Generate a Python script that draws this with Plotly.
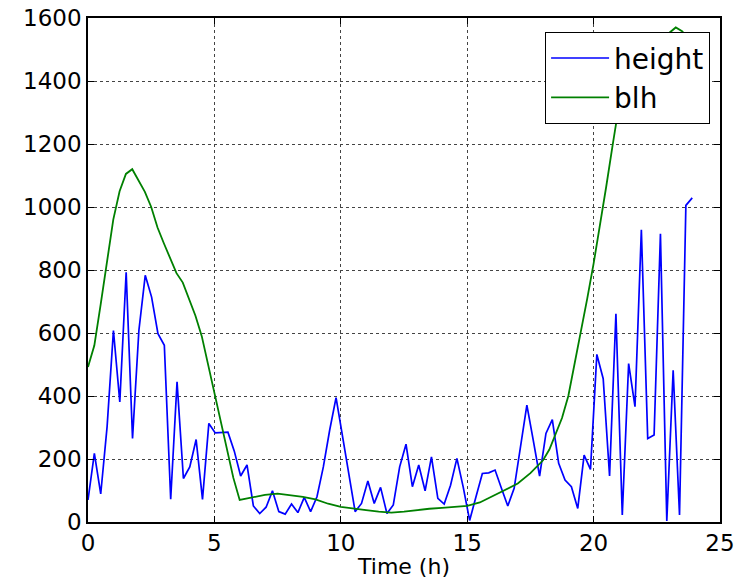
import plotly.graph_objects as go

# --- data ---
height_step_h = 0.2516  # sampling interval of the "height" series (hours)
height_values = [
    70, 218, 89, 302, 608, 381, 793, 265, 608, 783,
    714, 598, 561, 72, 445, 138, 175, 262, 72, 313,
    283, 283, 285, 225, 146, 181, 51, 27, 47, 99,
    33, 25, 57, 30, 78, 33, 80, 175, 292, 395,
    275, 155, 33, 59, 130, 59, 110, 27, 54, 175,
    247, 112, 181, 99, 207, 75, 57, 117, 202, 110,
    5, 80, 154, 156, 165, 107, 51, 107, 244, 371,
    260, 146, 281, 325, 186, 133, 112, 43, 212, 167,
    532, 455, 146, 661, 22, 503, 366, 928, 265, 276,
    915, 3, 482, 22, 1005, 1029,
]
height_time = [round(i * height_step_h, 4) for i in range(len(height_values))]

blh_time = [
    0.0, 0.25, 0.5, 0.75, 1.0, 1.25, 1.5, 1.75, 2.0, 2.25,
    2.5, 2.75, 3.0, 3.25, 3.5, 3.75, 4.0, 4.25, 4.5, 4.75,
    5.0, 5.25, 5.5, 5.75, 6.0, 6.5, 7.0, 7.5, 8.0, 8.5,
    9.0, 9.5, 10.0, 10.5, 11.0, 11.5, 12.0, 12.5, 13.0, 13.5,
    14.0, 14.5, 15.0, 15.5, 16.0, 16.5, 17.0, 17.5, 18.0, 18.25,
    18.5, 18.75, 19.0, 19.25, 19.5, 19.75, 20.0, 20.25, 20.5, 20.75,
    21.0, 21.5, 22.0, 22.5, 23.0, 23.25, 23.5, 23.75,
]
blh_values = [
    492, 560, 690, 820, 960, 1050, 1105, 1120, 1085, 1048,
    1000, 935, 885, 835, 790, 760, 710, 655, 590, 500,
    400, 310, 220, 140, 70, 78, 86, 90, 86, 80,
    72, 58, 48, 42, 38, 33, 30, 33, 38, 42,
    45, 49, 51, 62, 82, 100, 122, 155, 196, 230,
    280, 330, 400, 500, 600, 710, 820, 940, 1065, 1195,
    1320, 1420, 1480, 1520, 1552, 1570, 1558, 1535,
]

x_ticks = [0, 5, 10, 15, 20, 25]
y_ticks = [0, 200, 400, 600, 800, 1000, 1200, 1400, 1600]

FONT = "DejaVu Sans"

fig = go.Figure()
fig.add_trace(go.Scatter(x=height_time, y=height_values, mode="lines", name="height",
                         line=dict(color="#0000ff", width=1.7)))
fig.add_trace(go.Scatter(x=blh_time, y=blh_values, mode="lines", name="blh",
                         line=dict(color="#008000", width=1.8)))

axis_common = dict(
    showline=True, linecolor="black", linewidth=1.5, mirror="allticks",
    ticks="inside", ticklen=6, tickwidth=1, tickcolor="black",
    showgrid=True, gridcolor="#444444", griddash="dot", gridwidth=1,
    zeroline=False, automargin=False, ticklabeloverflow="allow",
    tickfont=dict(family=FONT, size=23, color="black"),
)

fig.update_xaxes(range=[0, 25], tickvals=x_ticks, ticktext=[str(v) for v in x_ticks],
                 title=dict(text="Time (h)", font=dict(family=FONT, size=22, color="black"), standoff=3),
                 **axis_common)
fig.update_yaxes(range=[0, 1600], tickvals=y_ticks, ticktext=[str(v) for v in y_ticks],
                 **axis_common)

# the page adds an 8px body margin, so the figure is a little smaller and shifted
fig.update_layout(
    width=742, height=572,
    margin=dict(l=80, r=30, t=10, b=58),
    paper_bgcolor="white", plot_bgcolor="white",
    font=dict(family=FONT, color="black"),
    showlegend=True,
    legend=dict(x=0.984, y=0.972, xanchor="right", yanchor="top",
                bgcolor="white", bordercolor="black", borderwidth=1.2,
                font=dict(family=FONT, size=28, color="black"),
                itemwidth=58, tracegroupgap=0),
)

fig.write_html("out.html")
